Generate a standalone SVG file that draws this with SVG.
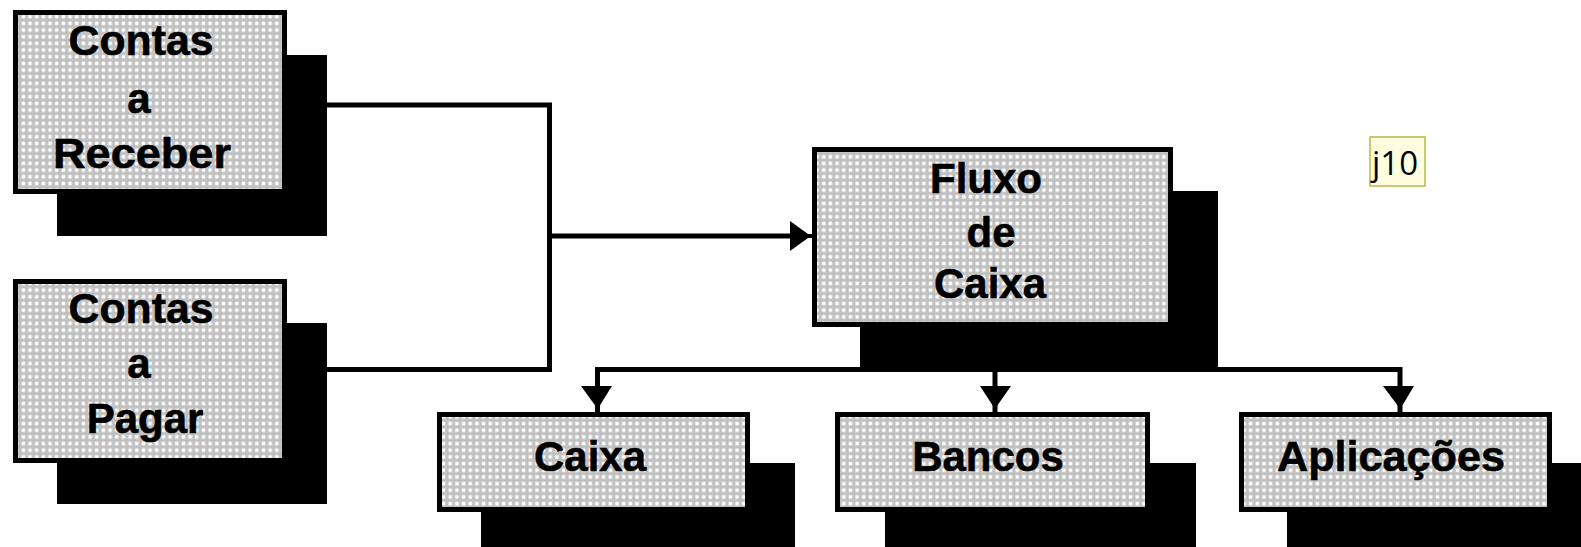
<svg xmlns="http://www.w3.org/2000/svg" width="1581" height="547" viewBox="0 0 1581 547">
<defs>
<pattern id="dots" patternUnits="userSpaceOnUse" x="0" y="0" width="6.67" height="6.67">
<rect width="6.67" height="6.67" fill="#c0c0c0"/>
<rect x="1.6" y="1.6" width="3.5" height="3.5" fill="#ffffff"/>
</pattern>
</defs>
<style>
.shadow{fill:#000}
.box{fill:url(#dots);stroke:#000;stroke-width:5}
.lbl{font-family:"Liberation Sans",Arial,sans-serif;font-weight:bold;font-size:42px;fill:#000;text-anchor:middle;stroke:#000;stroke-width:0.6}
.wire{fill:none;stroke:#000;stroke-width:5;stroke-linecap:square}
.head{fill:#000}
.note{fill:#ffffe0;stroke:#b8b846;stroke-width:1.5}
.notetxt{font-family:"Open Sans","Noto Sans",sans-serif;font-size:33px;fill:#000}
</style>
<g id="connectors">
<polyline class="wire" points="285,105 549.5,105 549.5,369.5 285,369.5"/>
<line class="wire" x1="549.5" y1="236" x2="795" y2="236"/>
<polygon class="head" points="790,221 808,234 812,234 812,238 808,238 790,251"/>
<polyline class="wire" points="597.5,410 597.5,369.5 1400,369.5 1400,410"/>
<line class="wire" x1="995" y1="369.5" x2="995" y2="410"/>
<polygon class="head" points="581,386 612,386 599.5,406 599.5,412 595.5,412 595.5,406"/>
<polygon class="head" points="980,386 1011,386 997,406 997,412 993,412 993,406"/>
<polygon class="head" points="1383,386 1414,386 1402,406 1402,412 1398,412 1398,406"/>
</g>
<g id="contas-receber">
<rect class="shadow" x="57" y="55" width="270" height="181"/>
<rect class="box" x="15.5" y="12.5" width="269" height="179"/>
<text class="lbl" x="141" y="55" textLength="145" lengthAdjust="spacingAndGlyphs">Contas</text>
<text class="lbl" x="139" y="113">a</text>
<text class="lbl" x="142" y="168" textLength="178" lengthAdjust="spacingAndGlyphs">Receber</text>
</g>
<g id="contas-pagar">
<rect class="shadow" x="57" y="323" width="270" height="181"/>
<rect class="box" x="15.5" y="281.5" width="269" height="179"/>
<text class="lbl" x="141" y="323" textLength="145" lengthAdjust="spacingAndGlyphs">Contas</text>
<text class="lbl" x="139" y="378">a</text>
<text class="lbl" x="145" y="433">Pagar</text>
</g>
<g id="fluxo-caixa">
<rect class="shadow" x="860" y="191" width="358" height="178"/>
<rect class="box" x="814.5" y="149.5" width="356" height="175"/>
<text class="lbl" x="986" y="193">Fluxo</text>
<text class="lbl" x="991" y="247">de</text>
<text class="lbl" x="990" y="298">Caixa</text>
</g>
<g id="caixa">
<rect class="shadow" x="481" y="463" width="314" height="84"/>
<rect class="box" x="439.5" y="414.5" width="308" height="95"/>
<text class="lbl" x="590" y="471">Caixa</text>
</g>
<g id="bancos">
<rect class="shadow" x="885" y="463" width="311" height="84"/>
<rect class="box" x="837.5" y="414.5" width="310" height="95"/>
<text class="lbl" x="988" y="471">Bancos</text>
</g>
<g id="aplicacoes">
<rect class="shadow" x="1287" y="463" width="294" height="84"/>
<rect class="box" x="1241.5" y="414.5" width="308" height="95"/>
<text class="lbl" x="1391" y="471" textLength="228" lengthAdjust="spacingAndGlyphs">Aplicações</text>
</g>
<g id="j10">
<rect class="note" x="1370" y="137" width="55" height="49"/>
<text class="notetxt" x="1372" y="175">j10</text>
</g>
</svg>
